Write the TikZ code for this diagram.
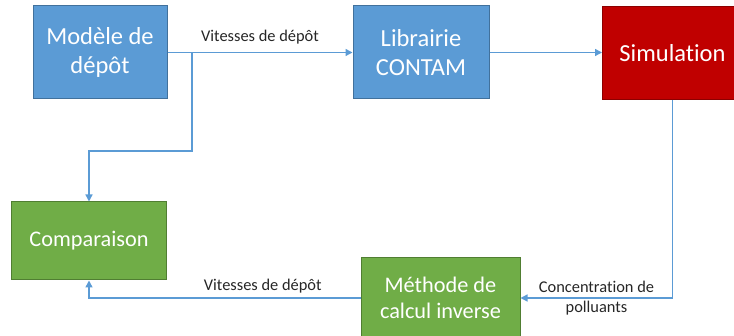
\documentclass[tikz,border=0pt]{standalone}
\usepackage{fontspec}
\setmainfont{Carlito}[RawFeature=-liga]
\usetikzlibrary{arrows.meta}
\definecolor{bfill}{HTML}{5B9BD5}
\definecolor{bline}{HTML}{41719C}
\definecolor{gfill}{HTML}{70AD47}
\definecolor{gline}{HTML}{507E32}
\definecolor{rfill}{HTML}{C00000}
\definecolor{rline}{HTML}{8C0000}
\definecolor{lab}{HTML}{262626}
\tikzset{
  box/.style={draw, line width=1pt, text=white, align=center, inner sep=0pt,
    font=\fontsize{24.5}{29}\selectfont},
  bluebox/.style={box, fill=bfill, draw=bline},
  greenbox/.style={box, fill=gfill, draw=gline, font=\fontsize{22.3}{26.5}\selectfont},
  redbox/.style={box, fill=rfill, draw=rline},
  conn/.style={draw=bfill, line width=1.4pt, -{Triangle[length=7pt,width=7pt]}},
  lbl/.style={text=lab, align=center, inner sep=0pt, font=\fontsize{16.4}{20}\selectfont}
}
\begin{document}
\begin{tikzpicture}[x=1pt,y=-1pt]
\useasboundingbox (0,0) rectangle (734,336);
\clip (0,0) rectangle (734,336);
\node[bluebox, minimum width=134pt, minimum height=93pt] (mod) at (100,52.5) {Modèle de\\dépôt};
\node[bluebox, minimum width=136pt, minimum height=93pt] (lib) at (421,52.5) {Librairie\\CONTAM};
\node[redbox, minimum width=140pt, minimum height=93pt] (sim) at (672.5,53) {Simulation};
\node[greenbox, minimum width=155pt, minimum height=78pt] (cmp) at (89,241) {Comparaison};
\node[greenbox, minimum width=159pt, minimum height=80pt] (meth) at (440.5,298) {Méthode de\\calcul inverse};
\coordinate (br) at (192,52.5);
\coordinate (brd) at (192,151);
\draw[conn] (mod.east) -- (lib.west) node[lbl, midway, yshift=15pt] {Vitesses de dépôt};
\draw[conn] (br) -- (brd) -| (cmp.north);
\draw[conn] (lib.east) -- (lib.east -| sim.west);
\draw[conn] (sim.south) |- (meth.east) node[lbl, pos=0.75] {Concentration de\\polluants};
\draw[conn] (meth.west) -| (cmp.south) node[lbl, pos=0.18, yshift=12pt] {Vitesses de dépôt};
\end{tikzpicture}
\end{document}
